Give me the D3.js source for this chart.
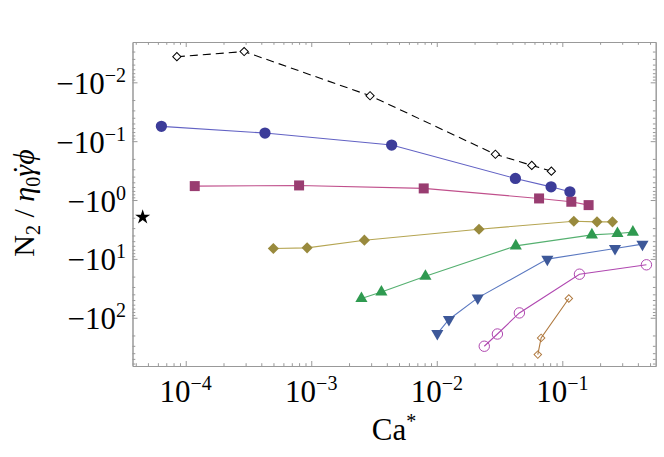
<!DOCTYPE html>
<html>
<head>
<meta charset="utf-8">
<script src="https://cdn.jsdelivr.net/npm/d3@7"></script>
<style>
  body { margin: 0; background: #fff; }
  text { font-family: "Liberation Serif", "DejaVu Serif", serif; fill: #000; }
</style>
</head>
<body>
<div id="chart"></div>
<script>
// data: Ca* and N2/(eta0 gammadot phi)
var caDash = [8.5e-5, 2.92e-4, 2.94e-3, 0.0293, 0.0571, 0.0818];
var n2Dash = [-0.00367, -0.0030, -0.0169, -0.167, -0.258, -0.323];

var caCircle = [6.4e-5, 4.28e-4, 4.37e-3, 0.0423, 0.0814, 0.115];
var n2Circle = [-0.056, -0.0728, -0.1165, -0.43, -0.597, -0.726];

var caSquare = [1.18e-4, 8.0e-4, 7.87e-3, 0.0653, 0.118, 0.162];
var n2Square = [-0.58, -0.565, -0.635, -0.94, -1.07, -1.22];

var caDiamond = [4.99e-4, 9.27e-4, 2.65e-3, 0.0217, 0.1235, 0.189, 0.251];
var n2Diamond = [-6.65, -6.5, -4.81, -3.13, -2.29, -2.35, -2.35];

var caUp = [2.51e-3, 3.62e-3, 8.12e-3, 0.0426, 0.172, 0.275, 0.365];
var n2Up = [-47.1, -36.4, -19.7, -6.01, -3.91, -3.70, -3.51];

var caDown = [0.0101, 0.0125, 0.0212, 0.076, 0.263, 0.435];
var n2Down = [-186, -107, -46, -10.1, -6.65, -5.62];

var caOpenCircle = [0.0239, 0.0304, 0.0455, 0.137, 0.468];
var n2OpenCircle = [-305, -189, -82.8, -18.2, -12.6];

var caOpenDiamond = [0.0638, 0.0678, 0.1127];
var n2OpenDiamond = [-423, -220, -47.1];

var caStar = [4.54e-5];
var n2Star = [-1.95];

var xTickExps = [-4, -3, -2, -1];
var yTickExps = [-2, -1, 0, 1, 2];

var width = 664, height = 457;
var margin = {top: 42, right: 8.3, bottom: 91, left: 132.5};

var svg = d3.select("#chart").append("svg")
    .attr("width", width)
    .attr("height", height);

var x = d3.scaleLog()
    .domain([Math.pow(10, -4.424), Math.pow(10, -0.256)])
    .range([margin.left, width - margin.right]);

var y = d3.scaleLog()
    .domain([-Math.pow(10, -2.685), -Math.pow(10, 2.82)])
    .range([margin.top, height - margin.bottom]);

// tick positions (majors + minors)
var xMajor = xTickExps.map(e => Math.pow(10, e));
var xMinor = [];
for (var e = -5; e <= 0; e++)
    for (var m = 2; m <= 9; m++) {
        var v = m * Math.pow(10, e);
        if (v > x.domain()[0] && v < x.domain()[1]) xMinor.push(v);
    }
var yMajor = yTickExps.map(e => -Math.pow(10, e));
var yMinor = [];
for (var e = -3; e <= 2; e++)
    for (var m = 2; m <= 9; m++) {
        var v = m * Math.pow(10, e);
        if (v > -y.domain()[0] && v < -y.domain()[1]) yMinor.push(-v);
    }

var frameColor = "#999";
var x0 = margin.left, x1 = width - margin.right;
var y0 = margin.top, y1 = height - margin.bottom;

function frameAxis(axisFn, scale, values, size, tx, ty) {
    var g = svg.append("g")
        .attr("transform", `translate(${tx},${ty})`)
        .call(axisFn(scale).tickValues(values).tickSize(-size).tickSizeOuter(0).tickFormat(""));
    g.selectAll("line").attr("stroke", frameColor);
    g.select(".domain").attr("stroke", frameColor);
    return g;
}

[[xMajor, 5], [xMinor, 2.8]].forEach(function(t) {
    frameAxis(d3.axisBottom, x, t[0], t[1], 0, y1);
    frameAxis(d3.axisTop, x, t[0], t[1], 0, y0);
});
[[yMajor, 5], [yMinor, 2.8]].forEach(function(t) {
    frameAxis(d3.axisLeft, y, t[0], t[1], x0, 0);
    frameAxis(d3.axisRight, y, t[0], t[1], x1, 0);
});

// tick labels
xTickExps.forEach(function(e) {
    var t = svg.append("text")
        .attr("x", x(Math.pow(10, e)))
        .attr("y", 402)
        .attr("text-anchor", "middle")
        .attr("font-size", 31);
    t.append("tspan").text("10");
    t.append("tspan").attr("dy", -12).attr("font-size", 20).text("\u2212" + Math.abs(e));
});

yTickExps.forEach(function(e) {
    var t = svg.append("text")
        .attr("x", 126)
        .attr("y", y(-Math.pow(10, e)) + 11.5)
        .attr("text-anchor", "end")
        .attr("font-size", 31);
    t.append("tspan").text("\u221210");
    t.append("tspan").attr("dy", -12).attr("font-size", 20)
        .text(e < 0 ? "\u2212" + Math.abs(e) : String(e));
});

// axis labels
var xl = svg.append("text")
    .attr("x", 394)
    .attr("y", 440)
    .attr("text-anchor", "middle")
    .attr("font-size", 31);
xl.append("tspan").text("Ca");
xl.append("tspan").attr("dy", -12).attr("font-size", 20).text("*");

var yl = svg.append("text")
    .attr("transform", "translate(34,203) rotate(-90)")
    .attr("text-anchor", "middle")
    .attr("font-size", 30);
yl.append("tspan").text("N");
yl.append("tspan").attr("dy", 6).attr("font-size", 20).text("2");
yl.append("tspan").attr("dy", -6).text(" / ");
yl.append("tspan").attr("font-style", "italic").text("\u03b7");
yl.append("tspan").attr("dy", 6).attr("font-size", 20).text("0");
yl.append("tspan").attr("dy", -6).attr("font-style", "italic").text("\u03b3");
yl.append("tspan").attr("dx", "-0.33em").text("\u02d9");
yl.append("tspan").attr("font-style", "italic").text("\u03d5");

// series
var line = d3.line().x(d => x(d[0])).y(d => y(d[1]));

var series = [
    {ca: caDash, n2: n2Dash, line: "#000", dash: "8,5", shape: d3.symbolSquare, size: 34, rot: 45, fill: "#fff", stroke: "#000"},
    {ca: caCircle, n2: n2Circle, line: "#6262c4", shape: d3.symbolCircle, size: 100, fill: "#3c3c99", stroke: "none"},
    {ca: caSquare, n2: n2Square, line: "#c0508c", shape: d3.symbolSquare, size: 100, fill: "#993d71", stroke: "none"},
    {ca: caDiamond, n2: n2Diamond, line: "#b5a552", shape: d3.symbolSquare, size: 62, rot: 45, fill: "#998a3d", stroke: "none"},
    {ca: caUp, n2: n2Up, line: "#55b070", shape: d3.symbolTriangle, size: 64, fill: "#2f9a50", stroke: "none"},
    {ca: caDown, n2: n2Down, line: "#5a78c0", shape: d3.symbolTriangle, size: 64, rot: 180, fill: "#3d5899", stroke: "none"},
    {ca: caOpenCircle, n2: n2OpenCircle, line: "#b048b0", shape: d3.symbolCircle, size: 85, fill: "none", stroke: "#b048b0"},
    {ca: caOpenDiamond, n2: n2OpenDiamond, line: "#b07a40", shape: d3.symbolSquare, size: 28, rot: 45, fill: "none", stroke: "#b07a40"}
];

series.forEach(function(s) {
    var pts = s.ca.map((c, i) => [c, s.n2[i]]);
    svg.append("path")
        .datum(pts)
        .attr("fill", "none")
        .attr("stroke", s.line)
        .attr("stroke-width", 1.1)
        .attr("stroke-dasharray", s.dash || null)
        .attr("d", line);
    svg.selectAll(null)
        .data(pts)
        .enter()
        .append("path")
        .attr("d", d3.symbol().type(s.shape).size(s.size))
        .attr("transform", d => `translate(${x(d[0])},${y(d[1])}) rotate(${s.rot || 0})`)
        .attr("fill", s.fill)
        .attr("stroke", s.stroke)
        .attr("stroke-width", 1);
});

// star
svg.selectAll(".star")
    .data(caStar.map((c, i) => [c, n2Star[i]]))
    .enter()
    .append("path")
    .attr("class", "star")
    .attr("d", d3.symbol().type(d3.symbolStar).size(70))
    .attr("transform", d => `translate(${x(d[0])},${y(d[1])})`)
    .attr("fill", "#000");
</script>
</body>
</html>
